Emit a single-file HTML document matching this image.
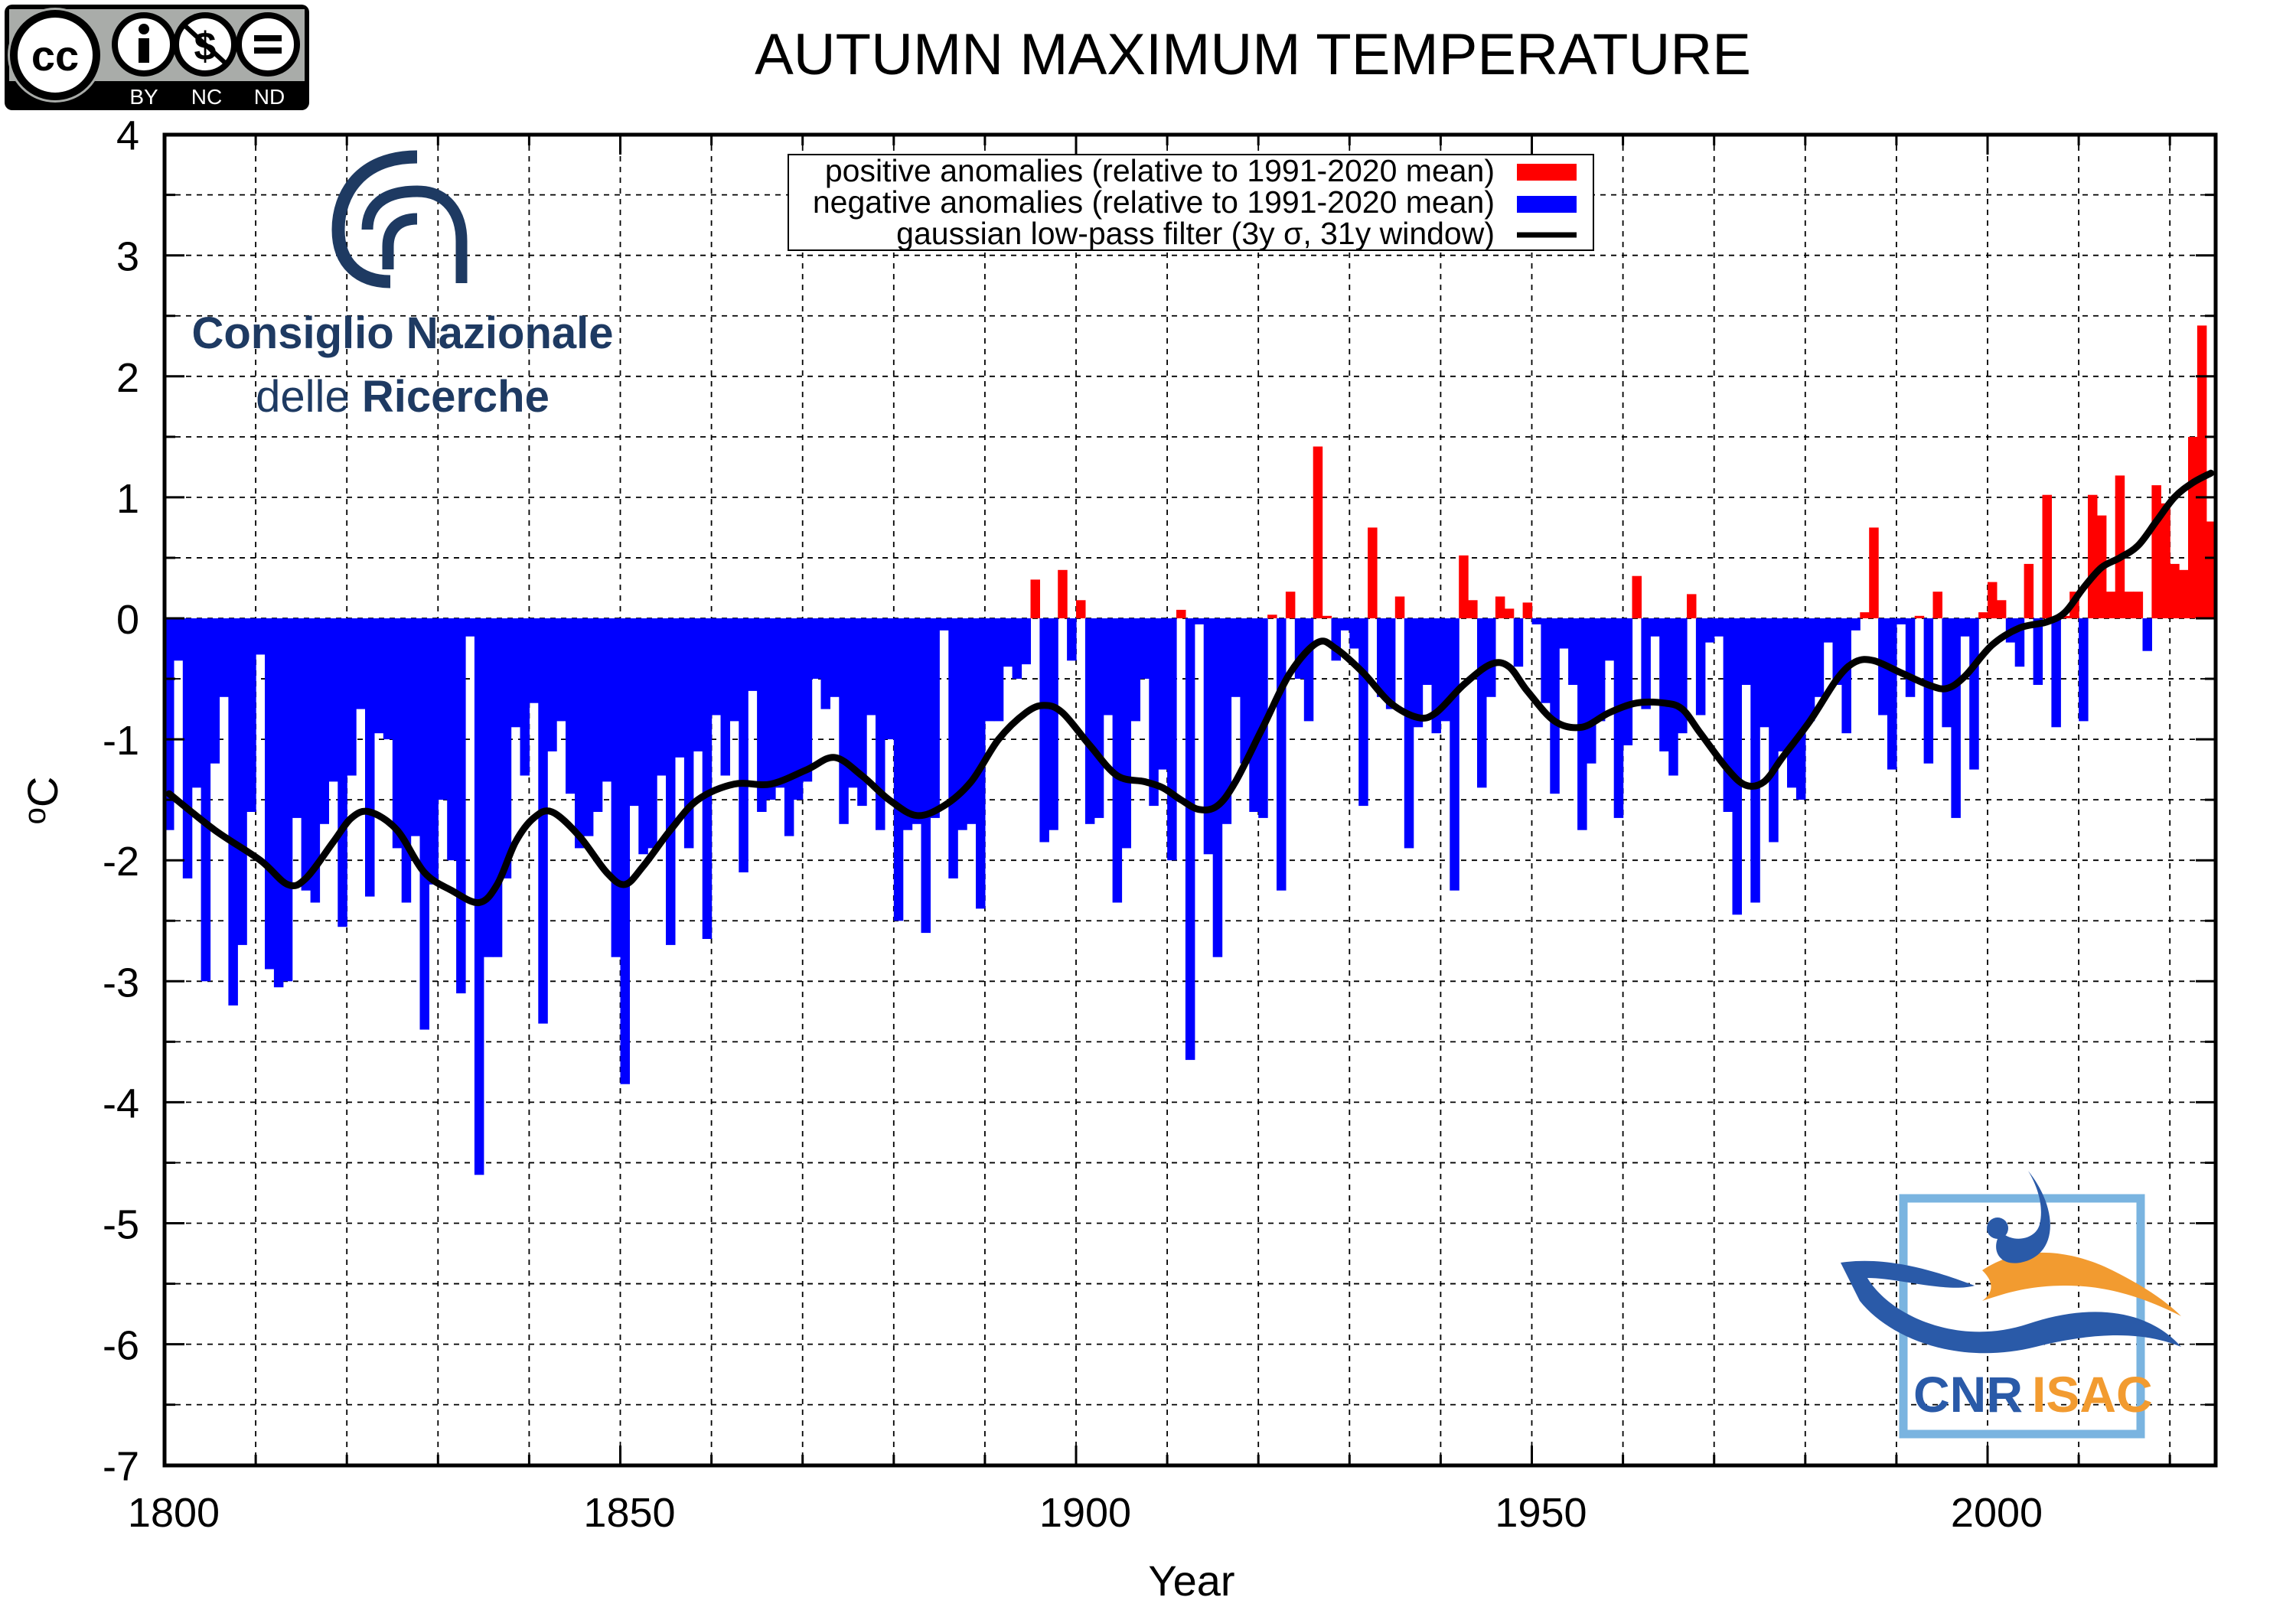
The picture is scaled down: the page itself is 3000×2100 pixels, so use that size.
<!DOCTYPE html>
<html><head><meta charset="utf-8">
<style>
html,body{margin:0;padding:0;background:#fff;}
body{width:3000px;height:2100px;overflow:hidden;}
svg{display:block;}
text{font-family:"Liberation Sans",sans-serif;}
</style></head>
<body>
<svg id="c" width="3000" height="2100" viewBox="0 0 3000 2100" xmlns="http://www.w3.org/2000/svg">
<rect width="3000" height="2100" fill="#fff"/>
<g id="grid"></g>
<g id="bars"></g>
<path id="curve" fill="none" stroke="#000" stroke-width="9" stroke-linejoin="round" stroke-linecap="round"/>
<g id="axes"></g>

<!-- title -->
<text x="1637" y="97" font-size="76" text-anchor="middle">AUTUMN MAXIMUM TEMPERATURE</text>

<!-- CC badge -->
<g>
<rect x="6" y="6" width="398" height="138" rx="10" fill="#000"/>
<rect x="12" y="12" width="386" height="94" fill="#a9aca9"/>
<circle cx="72" cy="72" r="62" fill="#a9aca9"/>
<circle cx="72" cy="72" r="54" fill="#fff" stroke="#000" stroke-width="10"/>
<text x="72" y="92" font-size="56" font-weight="bold" text-anchor="middle">cc</text>
<circle cx="188" cy="58" r="38" fill="#fff" stroke="#000" stroke-width="8"/>
<circle cx="188" cy="38" r="7" fill="#000"/><rect x="181" y="50" width="14" height="32" fill="#000"/>
<circle cx="268" cy="58" r="38" fill="#fff" stroke="#000" stroke-width="8"/>
<text x="268" y="78" font-size="52" font-weight="bold" text-anchor="middle">$</text>
<line x1="242" y1="34" x2="294" y2="82" stroke="#000" stroke-width="6"/>
<circle cx="350" cy="58" r="38" fill="#fff" stroke="#000" stroke-width="8"/>
<rect x="332" y="46" width="36" height="8" fill="#000"/><rect x="332" y="62" width="36" height="8" fill="#000"/>
<text x="188" y="136" font-size="28" fill="#fff" text-anchor="middle">BY</text>
<text x="270" y="136" font-size="28" fill="#fff" text-anchor="middle">NC</text>
<text x="352" y="136" font-size="28" fill="#fff" text-anchor="middle">ND</text>
</g>

<!-- CNR logo -->
<g fill="none" stroke="#1e3a62">
<path d="M545,205 C470,205 442,255 442,300 C442,345 470,368 510,368" stroke-width="17"/>
<path d="M480,300 C480,270 500,250 545,250 C585,250 603,280 603,315 L603,370" stroke-width="15"/>
<path d="M545,286 C520,286 507,300 507,322 L507,352" stroke-width="15"/>
</g>
<text x="526" y="455" font-size="58" font-weight="bold" fill="#1e3a62" text-anchor="middle" font-family="DejaVu Sans Condensed, DejaVu Sans, sans-serif">Consiglio Nazionale</text>
<text x="526" y="538" font-size="58" fill="#1e3a62" text-anchor="middle" font-family="DejaVu Sans Condensed, DejaVu Sans, sans-serif">delle <tspan font-weight="bold">Ricerche</tspan></text>

<!-- legend -->
<rect x="1030" y="202" width="1052" height="125" fill="#fff" stroke="#000" stroke-width="2"/>
<text x="1953" y="237" font-size="41" text-anchor="end">positive anomalies (relative to 1991-2020 mean)</text>
<text x="1953" y="278" font-size="41" text-anchor="end">negative anomalies (relative to 1991-2020 mean)</text>
<text x="1953" y="319" font-size="41" text-anchor="end">gaussian low-pass filter (3y σ, 31y window)</text>
<rect x="1982" y="214" width="78" height="22" fill="#ff0000"/>
<rect x="1982" y="256" width="78" height="22" fill="#0000ff"/>
<line x1="1982" y1="307" x2="2060" y2="307" stroke="#000" stroke-width="7"/>

<!-- ISAC logo -->
<g>
<rect x="2487" y="1566" width="310" height="308" fill="none" stroke="#7ab4e0" stroke-width="11"/>
<path d="M2405,1650 C2470,1640 2540,1665 2580,1680 C2545,1690 2480,1670 2440,1670 C2470,1720 2560,1760 2650,1730 C2740,1700 2810,1715 2850,1760 C2800,1740 2740,1740 2660,1760 C2560,1785 2470,1750 2430,1700 Z" fill="#2a5aa8"/>
<path d="M2590,1660 C2650,1620 2720,1640 2760,1660 C2800,1680 2830,1700 2850,1720 C2810,1700 2760,1680 2700,1680 C2650,1680 2620,1690 2590,1700 C2610,1685 2600,1670 2590,1660 Z" fill="#f29b30"/>
<path d="M2650,1530 C2690,1580 2690,1640 2640,1650 C2610,1655 2600,1630 2615,1610 C2630,1625 2660,1620 2665,1600 C2670,1580 2665,1555 2650,1530 Z" fill="#2a5aa8"/>
<circle cx="2610" cy="1605" r="14" fill="#2a5aa8"/>
<text x="2500" y="1845" font-size="66" font-weight="bold" fill="#2a5aa8" font-family="DejaVu Sans Condensed, DejaVu Sans, sans-serif">CNR</text>
<text x="2655" y="1845" font-size="66" font-weight="bold" fill="#f29b30" font-family="DejaVu Sans Condensed, DejaVu Sans, sans-serif">ISAC</text>
</g>

<!-- axis labels -->
<text x="1557" y="2085" font-size="56" text-anchor="middle">Year</text>
<text transform="translate(75,1046) rotate(-90)" font-size="56" text-anchor="middle"><tspan font-size="40" dy="-16">o</tspan><tspan dy="16">C</tspan></text>
</svg>
<script>
(function(){
var NS="http://www.w3.org/2000/svg";
var L=215,R=2895,T=176,B=1915;
var y0=808,uy=158.1,px=11.91;
function X(yr){return L+(yr-1800)*px;}
function Y(v){return y0-v*uy;}
function el(p,n,a){var e=document.createElementNS(NS,n);for(var k in a)e.setAttribute(k,a[k]);p.appendChild(e);return e;}
var grid=document.getElementById('grid'),bars=document.getElementById('bars'),axes=document.getElementById('axes');
for(var v=-6.5;v<4;v+=0.5){el(grid,'line',{x1:L,x2:R,y1:Y(v),y2:Y(v),stroke:'#000','stroke-width':1.8,'stroke-dasharray':'7,7'});}
for(var yr=1810;yr<2025;yr+=10){el(grid,'line',{x1:X(yr),x2:X(yr),y1:T,y2:B,stroke:'#000','stroke-width':1.8,'stroke-dasharray':'7,7'});}
var d=[-1.75,-0.35,-2.15,-1.4,-3.0,-1.2,-0.65,-3.2,-2.7,-1.6,
-0.3,-2.9,-3.05,-3.0,-1.65,-2.25,-2.35,-1.7,-1.35,-2.55,
-1.3,-0.75,-2.3,-0.95,-1.0,-1.9,-2.35,-1.8,-3.4,-2.2,
-1.5,-2.0,-3.1,-0.15,-4.6,-2.8,-2.8,-2.15,-0.9,-1.3,
-0.7,-3.35,-1.1,-0.85,-1.45,-1.9,-1.8,-1.6,-1.35,-2.8,
-3.85,-1.55,-1.95,-1.9,-1.3,-2.7,-1.15,-1.9,-1.1,-2.65,
-0.8,-1.3,-0.85,-2.1,-0.6,-1.6,-1.5,-1.4,-1.8,-1.5,
-1.35,-0.5,-0.75,-0.65,-1.7,-1.4,-1.55,-0.8,-1.75,-1.0,
-2.5,-1.75,-1.7,-2.6,-1.65,-0.1,-2.15,-1.75,-1.7,-2.4,
-0.85,-0.85,-0.4,-0.5,-0.38,0.32,-1.85,-1.75,0.4,-0.35,
0.15,-1.7,-1.65,-0.8,-2.35,-1.9,-0.85,-0.5,-1.55,-1.25,
-2.0,0.07,-3.65,-0.05,-1.95,-2.8,-1.7,-0.65,-1.2,-1.6,
-1.65,0.03,-2.25,0.22,-0.5,-0.85,1.42,0.02,-0.35,-0.1,
-0.25,-1.55,0.75,-0.65,-0.75,0.18,-1.9,-0.9,-0.55,-0.95,
-0.85,-2.25,0.52,0.15,-1.4,-0.65,0.18,0.08,-0.4,0.13,
-0.05,-0.7,-1.45,-0.25,-0.55,-1.75,-1.2,-0.85,-0.35,-1.65,
-1.05,0.35,-0.75,-0.15,-1.1,-1.3,-0.95,0.2,-0.8,-0.2,
-0.15,-1.6,-2.45,-0.55,-2.35,-0.9,-1.85,-1.1,-1.4,-1.5,
-0.85,-0.65,-0.2,-0.55,-0.95,-0.1,0.05,0.75,-0.8,-1.25,
-0.05,-0.65,0.02,-1.2,0.22,-0.9,-1.65,-0.15,-1.25,0.05,
0.3,0.15,-0.2,-0.4,0.45,-0.55,1.02,-0.9,0.02,0.22,
-0.85,1.02,0.85,0.22,1.18,0.22,0.22,-0.27,1.1,0.95,
0.45,0.4,1.5,2.42,0.8];
for(var i=0;i<d.length;i++){var v=d[i],x=X(1800+i);
 var y1=v>0?Y(v):y0, h=Math.abs(v)*uy;
 el(bars,'rect',{x:x.toFixed(1),y:y1.toFixed(1),width:(px+0.6).toFixed(1),height:h.toFixed(1),fill:v>0?'#ff0000':'#0000ff'});}
var c=[[1800,-1.45],[1805,-1.75],[1810,-2.0],[1813,-2.2],[1815,-2.15],[1818,-1.85],[1820,-1.65],[1822,-1.6],[1825,-1.75],[1828,-2.1],[1831,-2.25],[1834,-2.35],[1836,-2.2],[1838,-1.85],[1840,-1.65],[1842,-1.6],[1845,-1.8],[1848,-2.1],[1850,-2.2],[1852,-2.05],[1855,-1.75],[1858,-1.5],[1862,-1.37],[1866,-1.37],[1870,-1.25],[1873,-1.15],[1876,-1.3],[1879,-1.5],[1882,-1.63],[1885,-1.55],[1888,-1.35],[1891,-1.0],[1894,-0.78],[1896,-0.72],[1898,-0.78],[1901,-1.05],[1904,-1.3],[1907,-1.35],[1909,-1.4],[1911,-1.5],[1913,-1.58],[1915,-1.55],[1917,-1.35],[1920,-0.9],[1923,-0.45],[1926,-0.2],[1928,-0.25],[1931,-0.45],[1934,-0.7],[1937,-0.82],[1939,-0.78],[1942,-0.55],[1945,-0.38],[1947,-0.4],[1949,-0.6],[1952,-0.85],[1955,-0.9],[1958,-0.78],[1961,-0.7],[1964,-0.7],[1966,-0.75],[1968,-0.95],[1971,-1.25],[1973,-1.38],[1975,-1.35],[1977,-1.15],[1980,-0.85],[1983,-0.5],[1985,-0.36],[1987,-0.35],[1990,-0.45],[1993,-0.55],[1995,-0.58],[1997,-0.48],[2000,-0.22],[2003,-0.08],[2006,-0.03],[2008,0.05],[2010,0.25],[2012,0.42],[2014,0.5],[2016,0.6],[2018,0.8],[2020,1.0],[2022,1.12],[2024,1.2]];
var P=c.map(function(p){return [X(p[0]+0.5),Y(p[1])];});
var s='M'+P[0][0].toFixed(1)+','+P[0][1].toFixed(1);
for(var i=0;i<P.length-1;i++){var p0=P[Math.max(0,i-1)],p1=P[i],p2=P[i+1],p3=P[Math.min(P.length-1,i+2)];
 var c1x=p1[0]+(p2[0]-p0[0])/6,c1y=p1[1]+(p2[1]-p0[1])/6,c2x=p2[0]-(p3[0]-p1[0])/6,c2y=p2[1]-(p3[1]-p1[1])/6;
 s+=' C'+c1x.toFixed(1)+','+c1y.toFixed(1)+' '+c2x.toFixed(1)+','+c2y.toFixed(1)+' '+p2[0].toFixed(1)+','+p2[1].toFixed(1);}
document.getElementById('curve').setAttribute('d',s);
el(axes,'rect',{x:L,y:T,width:R-L,height:B-T,fill:'none',stroke:'#000','stroke-width':5});
for(var v=-7;v<=4;v+=0.5){var big=(v%1===0);var w=big?26:14;
 el(axes,'line',{x1:L,x2:L+w,y1:Y(v),y2:Y(v),stroke:'#000','stroke-width':3});
 el(axes,'line',{x1:R-w,x2:R,y1:Y(v),y2:Y(v),stroke:'#000','stroke-width':3});
 if(big){var t=el(axes,'text',{x:182,y:Y(v)+20,'font-size':54,'text-anchor':'end'});t.textContent=v;}}
for(var yr=1800;yr<=2020;yr+=10){var big=(yr%50===0);var w=big?26:14;
 el(axes,'line',{x1:X(yr),x2:X(yr),y1:B-w,y2:B,stroke:'#000','stroke-width':3});
 el(axes,'line',{x1:X(yr),x2:X(yr),y1:T,y2:T+w,stroke:'#000','stroke-width':3});
 if(big){var t=el(axes,'text',{x:X(yr)+12,y:1995,'font-size':54,'text-anchor':'middle'});t.textContent=yr;}}
})();
</script>
</body></html>
